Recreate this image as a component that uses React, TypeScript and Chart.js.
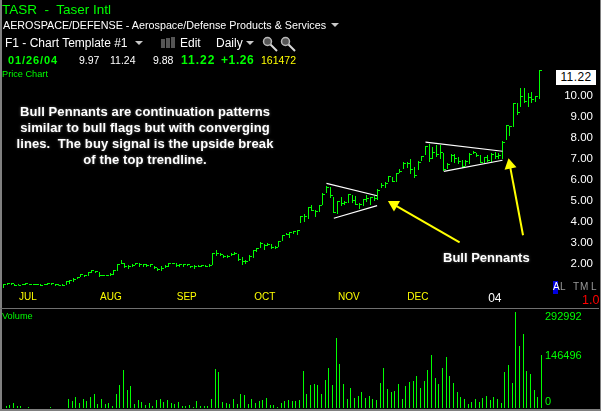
import { useEffect, useRef } from 'react';
import type { CSSProperties, ReactNode } from 'react';
import Chart from 'chart.js/auto';

// daily bars, 07/2003 to 01/26/2004
const highs = [
  1.05, 1.08, 1.08, 1.05, 1.03, 1.03, 1.08, 1.05, 1.03, 1.03, 1.03, 1.05, 1.08, 1.08, 1.05, 1.03, 1.03, 1.19, 1.24, 1.32,
  1.38, 1.52, 1.5, 1.62, 1.71, 1.68, 1.62, 1.5, 1.48, 1.56, 1.71, 2.0, 2.19, 2.03, 1.95, 1.98, 2.05, 2.05, 1.98, 1.98,
  1.98, 1.9, 1.82, 1.9, 1.95, 2.05, 2.05, 2.03, 2.0, 2.0, 1.98, 1.92, 1.95, 1.95, 1.95, 1.93, 1.99, 2.51, 2.67, 2.51,
  2.43, 2.41, 2.54, 2.59, 2.48, 2.32, 2.19, 2.41, 2.67, 2.75, 3.03, 2.95, 2.99, 2.94, 2.86, 3.09, 3.38, 3.46, 3.54, 3.59,
  3.62, 4.29, 4.38, 4.73, 4.81, 4.57, 4.81, 5.36, 5.71, 5.68, 5.19, 5.01, 5.19, 5.01, 5.33, 5.29, 5.24, 4.9, 5.11, 5.29,
  5.19, 5.24, 5.55, 5.84, 5.89, 6.19, 6.16, 6.35, 6.52, 6.87, 6.87, 6.98, 6.64, 6.9, 7.14, 7.62, 7.71, 7.55, 7.67, 7.67,
  7.27, 6.79, 7.22, 7.22, 7.08, 6.95, 6.95, 7.27, 7.4, 7.3, 7.19, 7.11, 7.19, 7.27, 7.35, 7.27, 7.86, 8.62, 8.59, 9.69,
  9.65, 10.37, 10.37, 10.13, 10.2, 10.0, 11.24,
];
const lows = [
  0.87, 1.0, 1.02, 0.97, 0.98, 1.0, 1.02, 1.0, 1.0, 1.0, 0.97, 1.0, 1.02, 1.0, 0.97, 0.98, 0.97, 1.02, 1.05, 1.13,
  1.3, 1.36, 1.38, 1.43, 1.58, 1.58, 1.38, 1.41, 1.41, 1.44, 1.5, 1.67, 1.98, 1.81, 1.75, 1.87, 1.95, 1.87, 1.87, 1.87,
  1.87, 1.77, 1.68, 1.68, 1.82, 1.87, 1.98, 1.87, 1.87, 1.87, 1.89, 1.82, 1.76, 1.87, 1.84, 1.84, 1.84, 1.97, 2.38, 2.38,
  2.3, 2.3, 2.38, 2.41, 2.16, 1.95, 1.99, 2.14, 2.3, 2.59, 2.75, 2.67, 2.87, 2.73, 2.73, 2.83, 3.09, 3.38, 3.25, 3.41,
  3.4, 3.97, 4.0, 4.14, 4.51, 4.25, 4.49, 4.81, 5.36, 5.16, 4.41, 4.36, 4.76, 4.81, 4.92, 4.89, 4.81, 4.62, 4.76, 4.97,
  4.81, 5.0, 5.05, 5.6, 5.63, 5.89, 5.89, 5.89, 6.32, 6.51, 6.56, 6.28, 6.11, 6.48, 6.9, 7.19, 6.87, 6.98, 7.11, 6.98,
  6.43, 6.51, 6.87, 6.79, 6.76, 6.59, 6.67, 6.75, 7.22, 7.11, 6.79, 6.79, 6.87, 6.87, 6.98, 6.98, 6.98, 7.9, 8.1, 8.54,
  9.1, 9.49, 9.68, 9.49, 9.68, 9.73, 9.88,
];
const closes = [
  1.03, 1.07, 1.07, 1.0, 1.0, 1.02, 1.07, 1.02, 1.02, 1.02, 1.0, 1.02, 1.06, 1.05, 1.02, 1.0, 1.0, 1.17, 1.2, 1.28,
  1.35, 1.5, 1.47, 1.58, 1.68, 1.62, 1.45, 1.44, 1.44, 1.52, 1.69, 1.98, 2.02, 1.9, 1.88, 1.93, 2.02, 1.96, 1.96, 1.95,
  1.96, 1.85, 1.72, 1.78, 1.9, 2.03, 2.03, 1.93, 1.96, 1.96, 1.96, 1.87, 1.9, 1.9, 1.94, 1.89, 1.95, 2.48, 2.48, 2.43,
  2.36, 2.37, 2.46, 2.5, 2.22, 2.1, 2.1, 2.38, 2.63, 2.72, 2.97, 2.9, 2.95, 2.78, 2.8, 3.05, 3.35, 3.42, 3.5, 3.55,
  3.6, 4.25, 4.25, 4.68, 4.55, 4.5, 4.78, 5.33, 5.66, 5.25, 4.45, 4.97, 4.9, 4.95, 5.3, 5.0, 4.85, 4.85, 5.05, 5.1,
  5.15, 5.1, 5.5, 5.75, 5.85, 6.17, 5.95, 6.3, 6.4, 6.78, 6.8, 6.5, 6.2, 6.85, 7.1, 7.6, 7.0, 7.3, 7.2, 7.3,
  6.5, 6.75, 7.17, 7.0, 6.9, 6.65, 6.88, 7.2, 7.3, 7.15, 6.85, 7.05, 6.95, 7.2, 7.1, 7.15, 7.8, 8.58, 8.55, 9.65,
  9.2, 9.97, 9.72, 9.95, 9.85, 9.96, 11.22,
];
const volumes = [
  5000, 10000, 15000, 7000, 5000, 0, 4000, 0, 0, 0, 0, 0, 4000, 0, 0, 0, 0, 28000, 20000, 34000,
  16000, 28000, 20000, 34000, 44000, 13000, 28000, 13000, 14000, 7000, 44000, 71000, 117000, 56000, 68000, 13000, 25000, 19000, 10000, 15000,
  7000, 25000, 28000, 19000, 25000, 16000, 13000, 19000, 7000, 7000, 10000, 4000, 22000, 7000, 7000, 7000, 28000, 120000, 111000, 19000,
  16000, 13000, 28000, 13000, 44000, 41000, 13000, 28000, 16000, 22000, 25000, 31000, 10000, 10000, 4000, 16000, 22000, 25000, 22000, 20000,
  25000, 114000, 44000, 71000, 74000, 71000, 44000, 86000, 123000, 71000, 214000, 135000, 74000, 28000, 62000, 31000, 38000, 50000, 31000, 38000,
  28000, 25000, 77000, 123000, 59000, 50000, 53000, 74000, 28000, 68000, 80000, 83000, 98000, 62000, 83000, 117000, 162000, 92000, 74000, 123000,
  156000, 98000, 77000, 50000, 34000, 28000, 13000, 19000, 28000, 19000, 31000, 38000, 25000, 34000, 28000, 16000, 111000, 132000, 77000, 292992,
  190000, 226000, 114000, 104000, 56000, 35000, 161472,
];

const monthLabels = ['JUL', 'AUG', 'SEP', 'OCT', 'NOV', 'DEC', '04'];
const monthDays = [6.6, 29.2, 49.9, 71.2, 94.1, 112.9, 133.9];

const priceLabels = ['2.00', '3.00', '4.00', '5.00', '6.00', '7.00', '8.00', '9.00', '10.00'];
const priceLabelValues = [2, 3, 4, 5, 6, 7, 8, 9, 10];

// the volume labels are nudged off their real values in the original too
const volumeLabels = ['0', '146496', '292992'];
const volumeLabelValues = [18310, 159620, 278650];

// pennants, [day, price]
const trendLines = [
  [[88, 5.84], [101.8, 5.25]],
  [[90, 4.18], [101.8, 4.78]],
  [[115, 7.8], [136, 7.37]],
  [[120, 6.41], [136, 6.94]],
];
// [tail, head] and the angle of the head
const arrows = [
  { points: [[124.3, 3.03], [106.4, 4.83]], angle: -60 },
  { points: [[141.6, 3.37], [138, 6.71]], angle: -11 },
];

const GREEN = '#00ff00';
const YELLOW = '#ffff00';
const FONT = '"Liberation Sans", Arial, sans-serif';

// keeps the 1px bars and ticks on whole pixels
const snapToPixels = {
  id: 'snapToPixels',
  afterDatasetsUpdate(chart: any) {
    chart.data.datasets.forEach((ds: any, i: number) => {
      const meta = chart.getDatasetMeta(i);
      if (meta.type === 'bar') {
        meta.data.forEach((el: any) => {
          el.x = Math.round(el.x - 0.5) + 0.5;
          el.y = Math.round(el.y);
          el.base = Math.round(el.base);
        });
      } else if (meta.type === 'scatter') {
        meta.data.forEach((el: any) => {
          el.x = Math.round(el.x - 0.5) + 0.5;
          el.y = Math.round(el.y - 0.5) + 0.5;
        });
      }
    });
  },
};

// stop the tick labels from pushing the plot area in
const noLabelPadding = (scale: any) => {
  scale.paddingLeft = 0;
  scale.paddingRight = 0;
  scale.paddingTop = 0;
  scale.paddingBottom = 0;
  if (scale._margins) {
    scale._margins.left = 0;
    scale._margins.right = 0;
    scale._margins.top = 0;
    scale._margins.bottom = 0;
  }
};

function Text({ x, y, color = '#fff', size = 11, bold = false, spacing = 0, children, style }: {
  x: number; y: number; color?: string; size?: number; bold?: boolean; spacing?: number; children: ReactNode; style?: CSSProperties;
}) {
  return (
    <div
      style={{
        position: 'absolute', left: x, top: y, transform: 'translateY(-50%)', color, whiteSpace: 'pre',
        fontFamily: FONT, fontSize: size, fontWeight: bold ? 700 : 400, letterSpacing: spacing, lineHeight: 1, ...style,
      }}
    >
      {children}
    </div>
  );
}

function Caret({ x, y }: { x: number; y: number }) {
  return (
    <div style={{ position: 'absolute', left: x, top: y, width: 0, height: 0, borderLeft: '4px solid transparent', borderRight: '4px solid transparent', borderTop: '4px solid #c8c8c8' }} />
  );
}

function Magnifier({ x }: { x: number }) {
  return (
    <svg style={{ position: 'absolute', left: x, top: 36 }} width={17} height={16}>
      <line x1={8} y1={8} x2={15} y2={15} stroke="#d8d8d8" strokeWidth={2} />
      <circle cx={5.5} cy={5.5} r={4} fill="#555" stroke="#b8b8b8" strokeWidth={1.5} />
    </svg>
  );
}

export default function App() {
  const priceRef = useRef<HTMLCanvasElement>(null);
  const volumeRef = useRef<HTMLCanvasElement>(null);

  useEffect(() => {
    document.body.style.margin = '0';
    document.body.style.background = '#000';

    const priceChart = new Chart(priceRef.current!, {
      type: 'bar',
      plugins: [snapToPixels],
      data: {
        datasets: [
          ...arrows.map((a) => ({
            type: 'line',
            data: a.points.map(([x, y]) => ({ x, y })),
            borderColor: YELLOW,
            borderWidth: 2,
            backgroundColor: YELLOW,
            pointStyle: 'triangle',
            pointRadius: [0, 7],
            pointRotation: [0, a.angle],
            pointBorderWidth: 0,
            order: 0,
          })),
          ...trendLines.map((line) => ({
            type: 'line',
            data: line.map(([x, y]) => ({ x, y })),
            borderColor: '#fff',
            borderWidth: 1.2,
            pointRadius: 0,
            order: 1,
          })),
          {
            type: 'scatter',
            data: closes.map((c, i) => ({ x: i, y: c })),
            pointStyle: 'dash',
            pointRadius: 2.5,
            pointBorderColor: GREEN,
            pointBorderWidth: 1,
            order: 2,
          },
          {
            type: 'bar',
            data: highs.map((h, i) => ({ x: i, y: [lows[i], h] })),
            backgroundColor: GREEN,
            barThickness: 1,
            inflateAmount: 0,
            order: 3,
          },
        ],
      } as any,
      options: {
        responsive: false,
        animation: false,
        events: [],
        // the 8 on the right is where the price labels end, the axis right-aligns to its own edge
        layout: { autoPadding: false, padding: { top: 62.4, left: 2, right: 8, bottom: 0 } },
        plugins: { legend: { display: false }, tooltip: { enabled: false } },
        scales: {
          x: {
            type: 'linear',
            offset: false,
            min: -0.49,
            max: 151.95,
            grid: { display: false, drawTicks: false },
            border: { display: false },
            afterBuildTicks: (scale: any) => {
              scale.ticks = monthDays.map((value) => ({ value }));
            },
            afterFit: (scale: any) => {
              scale.height = 18.8;
              noLabelPadding(scale);
            },
            ticks: {
              autoSkip: false,
              maxRotation: 0,
              padding: 2,
              callback: (_v: any, i: number) => monthLabels[i],
              color: (ctx: any) => (ctx.index === 6 ? '#fff' : YELLOW),
              font: (ctx: any) => ({ family: FONT, size: ctx.index === 6 ? 12 : 10 }),
            },
          },
          y: {
            position: 'right',
            min: 0.8,
            max: 11.6,
            grid: { display: false, drawTicks: false },
            border: { display: false },
            afterBuildTicks: (scale: any) => {
              scale.ticks = priceLabelValues.map((value) => ({ value }));
            },
            afterFit: (scale: any) => {
              scale.width = 32;
              noLabelPadding(scale);
            },
            ticks: {
              autoSkip: false,
              crossAlign: 'far',
              padding: 0,
              callback: (_v: any, i: number) => priceLabels[i],
              color: '#fff',
              font: { family: FONT, size: 11.5 },
            },
          },
        },
      } as any,
    });

    const volumeChart = new Chart(volumeRef.current!, {
      type: 'bar',
      plugins: [snapToPixels],
      data: {
        datasets: [
          {
            data: volumes.map((v, i) => ({ x: i, y: v })),
            backgroundColor: GREEN,
            barThickness: 1,
            inflateAmount: 0,
          },
        ],
      } as any,
      options: {
        responsive: false,
        animation: false,
        events: [],
        layout: { autoPadding: false, padding: { top: 2, left: 2, right: 0, bottom: 1 } },
        plugins: { legend: { display: false }, tooltip: { enabled: false } },
        scales: {
          x: { type: 'linear', display: false, offset: false, min: -1.145, max: 146.39 },
          y: {
            position: 'right',
            min: 0,
            max: 292992,
            grid: { display: false, drawTicks: false },
            border: { display: false },
            afterBuildTicks: (scale: any) => {
              scale.ticks = volumeLabelValues.map((value) => ({ value }));
            },
            afterFit: (scale: any) => {
              scale.width = 58;
              noLabelPadding(scale);
            },
            ticks: {
              autoSkip: false,
              padding: 2,
              color: GREEN,
              font: { family: FONT, size: 11 },
              callback: (_v: any, i: number) => volumeLabels[i],
            },
          },
        },
      } as any,
    });

    return () => {
      priceChart.destroy();
      volumeChart.destroy();
    };
  }, []);

  return (
    <div style={{ position: 'relative', width: 601, height: 411, background: '#000', overflow: 'hidden' }}>
      <canvas ref={priceRef} width={601} height={308} style={{ position: 'absolute', left: 0, top: 0 }} />
      <canvas ref={volumeRef} width={601} height={99} style={{ position: 'absolute', left: 0, top: 310 }} />

      {/* frame */}
      <div style={{ position: 'absolute', left: 0, top: 0, width: 2, height: 411, background: '#808080' }} />
      <div style={{ position: 'absolute', left: 0, top: 308, width: 599, height: 1, background: '#707070' }} />
      <div style={{ position: 'absolute', left: 0, top: 409, width: 601, height: 2, background: '#808080' }} />
      <div style={{ position: 'absolute', left: 600, top: 0, width: 1, height: 411, background: '#808080' }} />

      {/* current price flag, wider than the axis so it can't be a tick label */}
      <div
        style={{
          position: 'absolute', left: 556, top: 70, width: 40, height: 15, background: '#fff', color: '#000', fontFamily: FONT,
          fontSize: 12, lineHeight: '15px', textAlign: 'center', letterSpacing: 0.4,
        }}
      >
        11.22
      </div>

      <Text x={2} y={10} color={GREEN} size={13.5}>{'TASR  -  Taser Intl'}</Text>
      <Text x={3} y={25} size={10.75}>AEROSPACE/DEFENSE - Aerospace/Defense Products &amp; Services</Text>
      <Caret x={331} y={23} />
      <Text x={5} y={43} size={12}>F1 - Chart Template #1</Text>
      <Caret x={135} y={41} />
      {[0, 1, 2].map((n) => (
        <div key={n} style={{ position: 'absolute', left: 161 + n * 5, top: 39 - n, width: 4, height: 9 + n, background: '#555' }} />
      ))}
      <Text x={180} y={43} size={12}>Edit</Text>
      <Text x={216} y={43} size={12}>Daily</Text>
      <Caret x={246} y={41} />
      <Magnifier x={262} />
      <Magnifier x={280} />

      <Text x={8} y={60} color={GREEN} size={11} bold spacing={0.9}>01/26/04</Text>
      <Text x={79} y={60} size={10.5}>9.97</Text>
      <Text x={110} y={60} size={10.5}>11.24</Text>
      <Text x={153} y={60} size={10.5}>9.88</Text>
      <Text x={181} y={60} color={GREEN} size={12} bold spacing={1}>11.22</Text>
      <Text x={221} y={60} color={GREEN} size={12} bold spacing={0.6}>+1.26</Text>
      <Text x={261} y={60} color={YELLOW} size={10.5}>161472</Text>
      <Text x={2} y={75} color={GREEN} size={9.2}>Price Chart</Text>
      <Text x={2} y={317} color={GREEN} size={9.2}>Volume</Text>

      <div
        style={{
          position: 'absolute', left: 10, top: 104, width: 270, textAlign: 'center', color: '#fff', fontFamily: FONT,
          fontSize: 13, fontWeight: 700, lineHeight: '16px', whiteSpace: 'pre', letterSpacing: 0.1,
          textShadow: '0 0 3px rgba(255,255,255,0.35)',
        }}
      >
        {'Bull Pennants are continuation patterns\nsimilar to bull flags but with converging\nlines.  The buy signal is the upside break\nof the top trendline.'}
      </div>
      <Text x={443} y={257} size={13} bold style={{ textShadow: '0 0 3px rgba(255,255,255,0.35)' }}>Bull Pennants</Text>

      <div style={{ position: 'absolute', left: 553, top: 281, width: 5, height: 13, background: '#0000e0' }} />
      <Text x={553} y={287} size={10}>A</Text>
      <Text x={560} y={287} size={10} color="#9a9a9a">L</Text>
      <Text x={573} y={287} size={10} color="#9a9a9a">T</Text>
      <Text x={580} y={287} size={10} color="#9a9a9a">M</Text>
      <Text x={591} y={287} size={10} color="#9a9a9a">L</Text>
      <Text x={582} y={300} size={12.5} color="#ff0000">1.0</Text>
    </div>
  );
}
